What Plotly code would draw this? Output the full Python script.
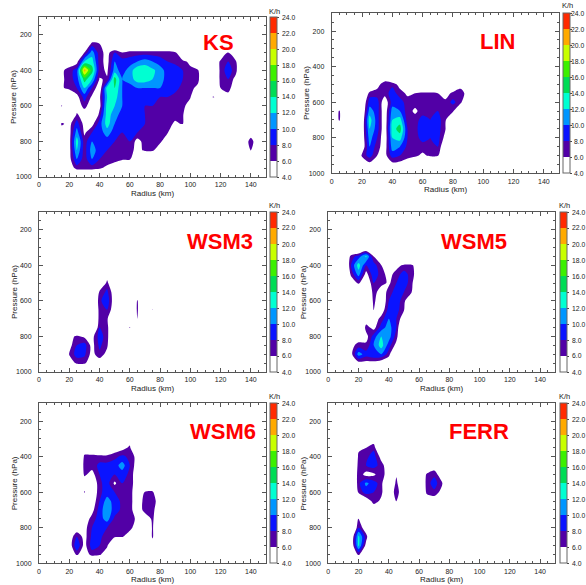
import plotly.graph_objects as go

W, H = 586, 585

# grid of the heating-rate fields (K/h)
RADIUS = list(range(0, 155, 5))            # km
PRESSURE = list(range(200, 1050, 50))      # hPa

# values, {pressure: {radius: K/h}}; missing points are 0
KS = {
    250: {35: 7, 40: 6},
    300: {30: 6, 35: 11, 40: 7, 45: 5, 50: 8, 55: 6, 60: 7, 65: 7, 70: 7, 75: 7, 80: 7, 85: 7, 90: 6.5, 125: 6.2},
    350: {20: 4, 25: 5, 30: 12, 35: 13, 40: 7, 45: 5, 50: 10, 55: 9, 60: 9, 65: 10, 70: 11, 75: 10, 80: 9, 85: 8,
          90: 7, 95: 7, 100: 5, 120: 7, 125: 8, 130: 6.5},
    400: {15: 5.5, 20: 7, 25: 9, 30: 21, 35: 15, 40: 7, 45: 5.5, 50: 11, 55: 9, 60: 11, 65: 13.5, 70: 13.5, 75: 12.5,
          80: 11, 85: 9, 90: 10, 95: 8, 100: 7, 105: 6.5, 120: 7, 125: 9, 130: 7},
    450: {15: 5.5, 20: 7, 25: 9, 30: 15, 35: 12, 40: 5.8, 45: 6.3, 50: 15, 55: 10, 60: 11, 65: 13, 70: 13, 75: 12,
          80: 11, 85: 9, 90: 10, 95: 8, 100: 7, 105: 7, 120: 7, 125: 8, 130: 5},
    500: {15: 5.5, 20: 7, 25: 8, 30: 12, 35: 8, 40: 4, 45: 13, 50: 14, 55: 10, 60: 9, 65: 10, 70: 10, 75: 10, 80: 10,
          85: 9, 90: 9, 95: 7, 100: 7, 105: 5, 120: 6, 125: 7, 130: 4},
    550: {25: 5, 30: 9, 35: 5.5, 40: 5.5, 45: 12, 50: 13, 55: 10, 60: 9, 65: 9, 70: 9, 75: 9, 80: 8, 85: 8, 90: 7,
          95: 7, 100: 6.3, 115: 6.4, 120: 4, 125: 5},
    600: {15: 6.4, 25: 4, 30: 7, 35: 4, 40: 5, 45: 13, 50: 12, 55: 10, 60: 9, 65: 9, 70: 8, 75: 8, 80: 8, 85: 7,
          90: 7, 95: 7, 100: 4},
    650: {25: 6.5, 30: 4, 40: 7, 45: 13, 50: 11, 55: 9, 60: 9, 65: 9, 70: 8, 75: 8, 80: 7, 85: 7, 90: 7, 95: 6.5},
    700: {15: 6.5, 20: 5, 25: 9, 30: 5, 35: 5, 40: 9, 45: 13, 50: 10, 55: 9, 60: 9, 65: 9, 70: 8, 75: 8, 80: 7,
          85: 7, 90: 5.5, 95: 6.3},
    750: {15: 4, 20: 5, 25: 11, 30: 5.5, 35: 8, 40: 9, 45: 11, 50: 9, 55: 8, 60: 9, 65: 8, 70: 7, 75: 7, 80: 7,
          85: 6.2, 140: 4},
    800: {20: 5, 25: 13, 30: 7, 35: 10, 40: 9, 45: 9, 50: 8, 55: 7, 60: 8, 65: 5, 70: 7, 75: 7, 80: 6.5, 85: 4,
          135: 3, 140: 7.5, 145: 3},
    850: {20: 5, 25: 12, 30: 7, 35: 11, 40: 9, 45: 8, 50: 8, 55: 7, 60: 7, 65: 5, 70: 6.5, 75: 6.5, 80: 4, 140: 6.3},
    900: {20: 5, 25: 10, 30: 7, 35: 10, 40: 8, 45: 8, 50: 7.5, 55: 6.5, 60: 6.5},
    950: {20: 4, 25: 7, 30: 7, 35: 7, 40: 6.5, 45: 5, 50: 3},
}

LIN = {
    450: {35: 3},
    500: {30: 5, 35: 7.5, 40: 7.5, 45: 5, 85: 5},
    550: {25: 7, 30: 7, 35: 7, 40: 9, 45: 7, 50: 5.5, 55: 6, 60: 6.5, 65: 6.5, 70: 6, 75: 4, 80: 7, 85: 7, 90: 5},
    600: {20: 3, 25: 9, 30: 9, 35: 4, 40: 9, 45: 9, 50: 7, 55: 7, 60: 7, 65: 7, 70: 7, 75: 7, 80: 8.5, 85: 7},
    650: {5: 6.5, 20: 3, 25: 11, 30: 9, 35: 4, 40: 11, 45: 10, 50: 7, 55: 5.5, 60: 7, 65: 8, 70: 8, 75: 7, 80: 6.5},
    700: {5: 6.5, 20: 3.5, 25: 13, 30: 9, 35: 4, 40: 12, 45: 13, 50: 7, 55: 7, 60: 9, 65: 8, 70: 9, 75: 6.5},
    750: {20: 4, 25: 12, 30: 9, 35: 4, 40: 13, 45: 15, 50: 8, 55: 7, 60: 10, 65: 8, 70: 9, 75: 6.2},
    800: {20: 4, 25: 11, 30: 8, 35: 4, 40: 12, 45: 13, 50: 8, 55: 7, 60: 9, 65: 8, 70: 9, 75: 5},
    850: {20: 4, 25: 10, 30: 7, 35: 4.5, 40: 11, 45: 10, 50: 7.5, 55: 7, 60: 7, 65: 7, 70: 8, 75: 3},
    900: {20: 6.5, 25: 9, 30: 6, 35: 5, 40: 9, 45: 8, 50: 7, 55: 6.5, 60: 5.5, 65: 6.5, 70: 6.5},
    950: {20: 3, 25: 5, 30: 3, 35: 3, 40: 5, 45: 5, 50: 4, 55: 3},
}

WSM3 = {
    450: {45: 4},
    500: {45: 7},
    550: {40: 6.5, 45: 8.5, 50: 4, 65: 3},
    600: {40: 7.5, 45: 9.5, 50: 4, 65: 6.3},
    650: {40: 7, 45: 8, 50: 4, 65: 6.5, 75: 6.2},
    700: {40: 7, 45: 6.5, 65: 6.2},
    750: {40: 8, 45: 7, 60: 6.4},
    800: {20: 5, 25: 6.5, 30: 5.5, 35: 5, 40: 9, 45: 7},
    850: {20: 5, 25: 8, 30: 9, 35: 5, 40: 8.5, 45: 6.5},
    900: {20: 6.2, 25: 9, 30: 8.5, 35: 5, 40: 7.5, 45: 5},
    950: {20: 4, 25: 6.5, 30: 6.5, 35: 4, 40: 4},
}

WSM5 = {
    300: {25: 2},
    350: {15: 7, 20: 9, 25: 12.5, 30: 6},
    400: {15: 8, 20: 13, 25: 8, 30: 9, 35: 6.2, 45: 5, 50: 6.5, 55: 6.5, 60: 4},
    450: {15: 6.5, 20: 11, 25: 5, 30: 9.5, 35: 7, 40: 5, 45: 7, 50: 9, 55: 7, 60: 4},
    500: {15: 4, 20: 6.5, 25: 3, 30: 8, 35: 7, 40: 5.5, 45: 8, 50: 9, 55: 7},
    550: {30: 7.5, 35: 4, 40: 7, 45: 9, 50: 8, 55: 6.2},
    600: {30: 6.8, 35: 3, 40: 8, 45: 9, 50: 7},
    650: {30: 6.1, 35: 4, 40: 9, 45: 9, 50: 6.2},
    700: {25: 4, 30: 4, 35: 7, 40: 10, 45: 8, 50: 4},
    750: {25: 7, 30: 5, 35: 9, 40: 11, 45: 8},
    800: {20: 4, 25: 5, 30: 9, 35: 12, 40: 11, 45: 7},
    850: {15: 5, 20: 7, 25: 6.5, 30: 10, 35: 13, 40: 9, 45: 5},
    900: {15: 5, 20: 11, 25: 9, 30: 10, 35: 10, 40: 7},
    950: {15: 3, 20: 5, 25: 5, 30: 5, 35: 4, 40: 3},
}

WSM6 = {
    300: {60: 4.5},
    350: {30: 4, 35: 4, 50: 4, 55: 5, 60: 6.5},
    400: {30: 6.5, 35: 6.5, 40: 7, 45: 7, 50: 7.5, 55: 8.5, 60: 7.5, 65: 5},
    450: {30: 7, 35: 7, 40: 8.5, 45: 8.5, 50: 9, 55: 11, 60: 8, 65: 4.5},
    500: {30: 6.5, 35: 5, 40: 8, 45: 9, 50: 8, 55: 9, 60: 7.5, 65: 4},
    550: {30: 4, 35: 3, 40: 7.5, 45: 9, 50: 5.5, 55: 8, 60: 7.5, 65: 4},
    600: {30: 6.3, 35: 3, 40: 7.5, 45: 9, 50: 8, 55: 8, 60: 7, 65: 4, 70: 6.2, 75: 6.8},
    650: {35: 4, 40: 8, 45: 11, 50: 9, 55: 7.5, 60: 7, 65: 4, 70: 7, 75: 7.5, 80: 4},
    700: {35: 5, 40: 9, 45: 11.5, 50: 9, 55: 7.5, 60: 7, 65: 4, 70: 7, 75: 7, 80: 3},
    750: {30: 4, 35: 7, 40: 9, 45: 11, 50: 7.5, 55: 7, 60: 7, 65: 5.5, 70: 4, 75: 6.5, 80: 3},
    800: {25: 4, 30: 5, 35: 8, 40: 9, 45: 8, 50: 7, 55: 7, 60: 7, 65: 4, 75: 6.5},
    850: {20: 4, 25: 8, 30: 5, 35: 8.5, 40: 8.5, 45: 7, 50: 6.5, 55: 6.3, 60: 4, 75: 6.5},
    900: {20: 4, 25: 10, 30: 5, 35: 9, 40: 8, 45: 6.5, 75: 4},
    950: {20: 3, 25: 6.5, 30: 4, 35: 7, 40: 6.5, 45: 4},
}

FERR = {
    300: {30: 4},
    350: {20: 5.5, 25: 6, 30: 7.5},
    400: {20: 6.5, 25: 7.5, 30: 9, 35: 5},
    450: {20: 7, 25: 8, 30: 9, 35: 7, 40: 4, 70: 4},
    500: {20: 7.5, 25: 5, 30: 5.5, 35: 7.5, 40: 4, 45: 5.5, 65: 6.5, 70: 7.5, 75: 4},
    550: {20: 7.5, 25: 10.5, 30: 9, 35: 7, 45: 7, 65: 7, 70: 9, 75: 6.5},
    600: {20: 6.5, 25: 9, 30: 8, 35: 6.5, 40: 3, 45: 7.5, 50: 3, 65: 6.5, 70: 7.5, 75: 5},
    650: {25: 4, 30: 7, 35: 5.5, 45: 6.5, 65: 4, 70: 4},
    700: {30: 4},
    750: {20: 6.2},
    800: {20: 8, 25: 4},
    850: {15: 3, 20: 12.5, 25: 7},
    900: {15: 3, 20: 12.5, 25: 5},
    950: {15: 3, 20: 6.5, 25: 3},
}

PANEL_NAMES = ['KS', 'LIN', 'WSM3', 'WSM5', 'WSM6', 'FERR']
PANEL_DATA = [KS, LIN, WSM3, WSM5, WSM6, FERR]

LEVEL_EDGES = [4, 6, 8, 10, 12, 14, 16, 18, 20, 22, 24]
LEVEL_LABELS = ['4.0', '6.0', '8.0', '10.0', '12.0', '14.0', '16.0', '18.0', '20.0', '22.0', '24.0']
BAND_COLORS = ['#ffffff', '#5200a6', '#0a14ff', '#0096ff', '#00ffd2',
               '#00dc55', '#3cf000', '#c8ff00', '#ffaa00', '#ff2a00']
X_TICKS = [0, 20, 40, 60, 80, 100, 120, 140]
Y_TICKS = [200, 400, 600, 800, 1000]

# layout in pixels: plot box (left, right, top, bottom)
BOX = {
    'KS': (39, 266, 17, 177),
    'LIN': (331.7, 559, 13.3, 173.3),
    'WSM3': (39, 266, 212, 372),
    'WSM5': (328.3, 555.3, 212, 372),
    'WSM6': (39, 266, 403.3, 563.3),
    'FERR': (328.3, 555.3, 403.3, 563.3),
}
CBAR_LEFT = {'KS': 270, 'LIN': 563, 'WSM3': 270, 'WSM5': 560, 'WSM6': 270, 'FERR': 560}
NAME_POS = {'KS': (218, 43), 'LIN': (497, 42), 'WSM3': (220, 242), 'WSM5': (474, 242),
            'WSM6': (223, 431), 'FERR': (479, 431)}
YTITLE_X = {'KS': 14, 'LIN': 306.7, 'WSM3': 14, 'WSM5': 303.3, 'WSM6': 14, 'FERR': 303.3}
XTITLE_Y = {'KS': 192.7, 'LIN': 189, 'WSM3': 387.7, 'WSM5': 387.7, 'WSM6': 579.3, 'FERR': 579.3}
KH_POS = {'KS': (274, 11), 'LIN': (567, 6), 'WSM3': (274, 205), 'WSM5': (564, 205),
          'WSM6': (274, 396), 'FERR': (564, 396)}
CB_THICK = 7

FONT = 'Liberation Sans Narrow, Arial Narrow, Liberation Sans, Arial, sans-serif'
TXT = '#222'


def px_x(v):
    return v / W


def px_y(v):
    return 1 - v / H


def stepped(edges, colors, lo, hi):
    scale = []
    for i, c in enumerate(colors):
        scale.append([(edges[i] - lo) / (hi - lo), c])
        scale.append([(edges[i + 1] - lo) / (hi - lo), c])
    return scale


# contour fill colours are sampled at band centres over [start - size/2, end + size/2]
contour_scale = stepped([3] + LEVEL_EDGES + [25], ['#ffffff'] + BAND_COLORS + [BAND_COLORS[-1]], 3, 25)
bar_scale = stepped(LEVEL_EDGES, BAND_COLORS, 4, 24)

fig = go.Figure()
annotations = []
for i, (name, rows) in enumerate(zip(PANEL_NAMES, PANEL_DATA)):
    k = '' if i == 0 else str(i + 1)
    z = [[rows.get(p, {}).get(r, 0) for r in RADIUS] for p in PRESSURE]
    fig.add_trace(go.Contour(
        x=RADIUS, y=PRESSURE, z=z, xaxis='x' + k, yaxis='y' + k,
        autocontour=False,
        contours=dict(start=4, end=24, size=2, coloring='fill'),
        colorscale=contour_scale, showscale=False,
        line=dict(width=0, smoothing=0.8), hoverinfo='skip'))

    l, r, t, b = BOX[name]
    cbl = CBAR_LEFT[name]
    fig.add_trace(go.Scatter(
        x=[None], y=[None], xaxis='x' + k, yaxis='y' + k, mode='markers', showlegend=False,
        marker=dict(color=[4], cmin=4, cmax=24, colorscale=bar_scale, showscale=True,
                    colorbar=dict(x=px_x(cbl), xanchor='left', xpad=0,
                                  y=px_y((t + b) / 2), yanchor='middle', ypad=0,
                                  len=b - t, lenmode='pixels', thickness=CB_THICK, thicknessmode='pixels',
                                  outlinewidth=1, outlinecolor='#666',
                                  tickvals=LEVEL_EDGES, showticklabels=False,
                                  ticks='outside', ticklen=2, tickcolor='#444'))))
    # colorbar labels (the top-right bar sits against the page edge, so anchor its labels on the right)
    for v, lab in zip(LEVEL_EDGES, LEVEL_LABELS):
        yy = b - (v - 4) / 20 * (b - t)
        if name == 'LIN':
            lx, anc = 585.5, 'right'
        else:
            lx, anc = cbl + CB_THICK + 2.5, 'left'
        annotations.append(dict(text=lab, x=px_x(lx), y=px_y(yy), xref='paper', yref='paper',
                                showarrow=False, xanchor=anc, yanchor='middle',
                                font=dict(family=FONT, size=6.8, color=TXT)))

    axis_common = dict(showline=True, linecolor='#555', linewidth=1, mirror='ticks',
                       ticks='inside', tickcolor='#555', showgrid=False, zeroline=False,
                       tickfont=dict(family=FONT, size=7, color=TXT))
    fig.layout['xaxis' + k] = dict(axis_common, domain=[px_x(l), px_x(r)], anchor='y' + k,
                                   range=[0, 150], tickvals=X_TICKS, ticklen=4, ticklabelstandoff=1,
                                   minor=dict(dtick=5, tick0=0, ticks='inside', ticklen=2, tickcolor='#555'))
    fig.layout['yaxis' + k] = dict(axis_common, domain=[px_y(b), px_y(t)], anchor='x' + k,
                                   range=[1000, 100], tickvals=Y_TICKS, ticklen=4, ticklabelstandoff=5,
                                   minor=dict(dtick=50, tick0=0, ticks='inside', ticklen=2, tickcolor='#555'))

    annotations.append(dict(text='<b>%s</b>' % name, x=px_x(NAME_POS[name][0]), y=px_y(NAME_POS[name][1]),
                            xref='paper', yref='paper', showarrow=False, xanchor='center', yanchor='middle',
                            font=dict(family='Liberation Sans, Arial, sans-serif', size=22, color='#ff0000')))
    annotations.append(dict(text='Pressure (hPa)', x=px_x(YTITLE_X[name]), y=px_y((t + b) / 2),
                            xref='paper', yref='paper', showarrow=False, textangle=-90,
                            xanchor='center', yanchor='middle', font=dict(family=FONT, size=8, color=TXT)))
    annotations.append(dict(text='Radius (km)', x=px_x((l + r) / 2), y=px_y(XTITLE_Y[name] + 0.5),
                            xref='paper', yref='paper', showarrow=False,
                            xanchor='center', yanchor='middle', font=dict(family=FONT, size=8, color=TXT)))
    annotations.append(dict(text='K/h', x=px_x(KH_POS[name][0]), y=px_y(KH_POS[name][1]),
                            xref='paper', yref='paper', showarrow=False,
                            xanchor='center', yanchor='middle', font=dict(family=FONT, size=7.5, color=TXT)))

fig.update_layout(width=W, height=H, margin=dict(l=0, r=0, t=0, b=0, autoexpand=False),
                  paper_bgcolor='white', plot_bgcolor='white', showlegend=False,
                  annotations=annotations)

fig.write_html('out.html', config={'displayModeBar': False},
               post_script="document.body.style.margin='0';document.body.style.overflow='hidden';")
